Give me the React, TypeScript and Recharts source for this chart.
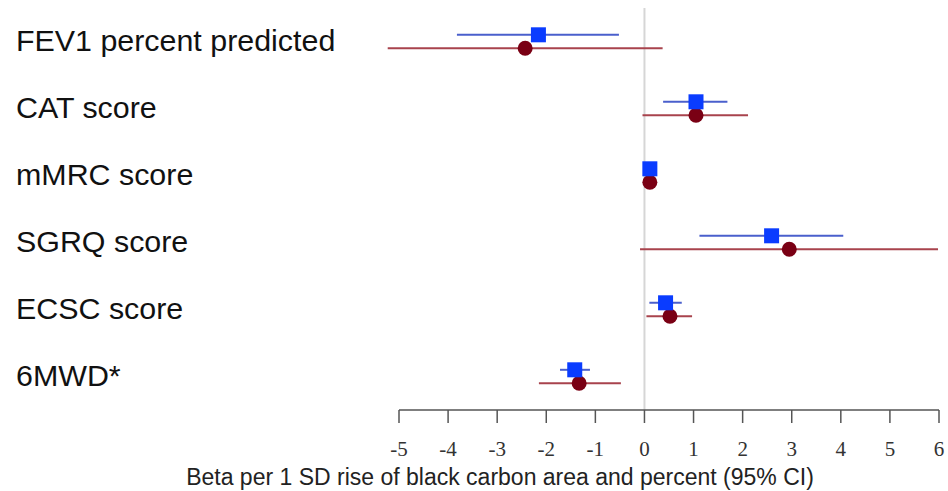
import React from "react";
import {
  ScatterChart,
  Scatter,
  XAxis,
  YAxis,
  ErrorBar,
  ReferenceLine,
} from "recharts";

// outcome rows, top to bottom
const outcomes = [
  "FEV1 percent predicted",
  "CAT score",
  "mMRC score",
  "SGRQ score",
  "ECSC score",
  "6MWD*",
];

// black carbon area (blue squares)
const areaBeta = [-2.16, 1.05, 0.11, 2.59, 0.43, -1.42];
const areaLow = [-3.82, 0.38, 0.06, 1.12, 0.1, -1.72];
const areaHigh = [-0.52, 1.69, 0.16, 4.05, 0.76, -1.11];

// black carbon percent (red circles)
const pctBeta = [-2.43, 1.05, 0.11, 2.95, 0.52, -1.33];
const pctLow = [-5.23, -0.04, 0.06, -0.09, 0.04, -2.15];
const pctHigh = [0.37, 2.11, 0.16, 5.98, 0.97, -0.48];

const xTicks = [-5, -4, -3, -2, -1, 0, 1, 2, 3, 4, 5, 6];
const rowTicks = [0, 1, 2, 3, 4, 5];

const areaData = outcomes.map((name, i) => ({
  name,
  x: areaBeta[i],
  y: i - 0.1,
  err: [areaBeta[i] - areaLow[i], areaHigh[i] - areaBeta[i]],
}));

const pctData = outcomes.map((name, i) => ({
  name,
  x: pctBeta[i],
  y: i + 0.1,
  err: [pctBeta[i] - pctLow[i], pctHigh[i] - pctBeta[i]],
}));

const Square = (props: any) => {
  const { cx, cy } = props;
  return <rect x={cx - 7.5} y={cy - 7.5} width={15} height={15} fill="#0a3cff" />;
};

const Dot = (props: any) => {
  const { cx, cy } = props;
  return <circle cx={cx} cy={cy} r={7.5} fill="#7a0014" />;
};

const RowLabel = (props: any) => {
  const { y, payload } = props;
  return (
    <text
      x={16}
      y={y - 1}
      dy="0.36em"
      textAnchor="start"
      fontFamily="'Liberation Sans', Arial, sans-serif"
      fontSize={30.4}
      fill="#111"
    >
      {outcomes[payload.value]}
    </text>
  );
};

export default function App() {
  return (
    <div style={{ position: "absolute", left: 0, top: 0, background: "#fff" }}>
      <ScatterChart
        width={948}
        height={491}
        margin={{ top: 8, right: 9, bottom: 0, left: 15 }}
      >
        <XAxis
          type="number"
          dataKey="x"
          domain={[-5, 6]}
          ticks={xTicks}
          allowDataOverflow
          height={81}
          tickSize={13}
          tickMargin={18}
          axisLine={{ stroke: "#555", strokeWidth: 1.5 }}
          tickLine={{ stroke: "#555", strokeWidth: 1.5 }}
          tick={{
            fontFamily: "'Liberation Serif', 'Times New Roman', serif",
            fontSize: 21,
            fill: "#333",
          }}
          label={{
            value: "Beta per 1 SD rise of black carbon area and percent (95% CI)",
            position: "insideBottom",
            offset: 6,
            dx: -169,
            style: {
              fontFamily: "'Liberation Sans', Arial, sans-serif",
              fontSize: 23,
              fill: "#222",
            },
          }}
        />
        <YAxis
          type="number"
          dataKey="y"
          domain={[-0.5, 5.5]}
          reversed
          ticks={rowTicks}
          width={384}
          axisLine={false}
          tickLine={false}
          tick={<RowLabel />}
        />
        <ReferenceLine x={0} stroke="#d6d6d6" strokeWidth={2} />
        <Scatter data={pctData} shape={<Dot />} isAnimationActive={false}>
          <ErrorBar
            dataKey="err"
            direction="x"
            width={0}
            stroke="#a8434d"
            strokeWidth={2}
          />
        </Scatter>
        <Scatter data={areaData} shape={<Square />} isAnimationActive={false}>
          <ErrorBar
            dataKey="err"
            direction="x"
            width={0}
            stroke="#4a5fcc"
            strokeWidth={2}
          />
        </Scatter>
      </ScatterChart>
    </div>
  );
}
